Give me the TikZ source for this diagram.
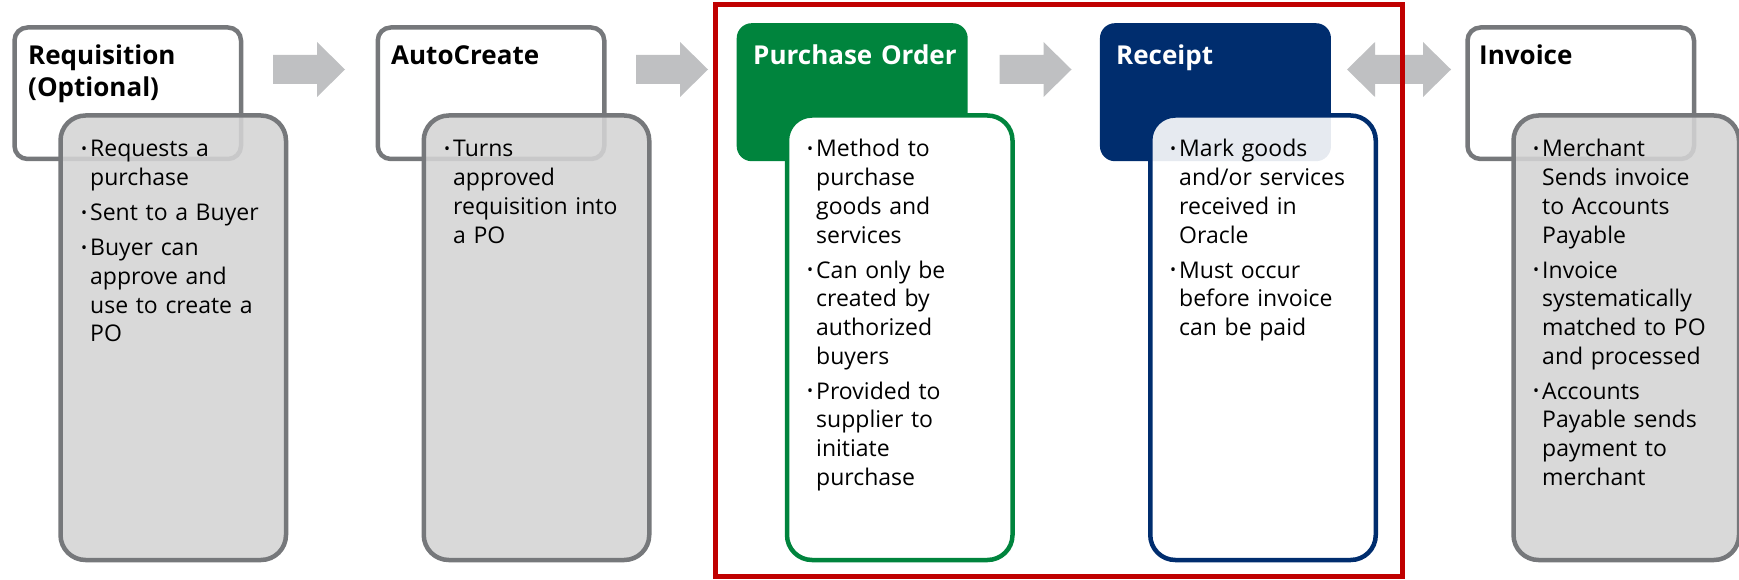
\documentclass[tikz,border=0pt]{standalone}
\usepackage{fontspec}
\setmainfont{Open Sans}

\definecolor{boxgrey}{RGB}{118,120,123}
\definecolor{panelgrey}{RGB}{212,212,212}
\definecolor{arrowgrey}{RGB}{191,192,194}
\definecolor{pogreen}{RGB}{0,132,61}
\definecolor{rcptnavy}{RGB}{0,45,110}
\definecolor{framered}{RGB}{192,0,0}

% one bullet item: small round dot, wrapped lines aligned with the text
\newcommand\bul[1]{{\leftskip=9pt\leavevmode\hspace*{-9pt}%
  \makebox[9pt][l]{\raisebox{2.5pt}{\fontsize{16}{16}\selectfont\textbullet}}#1\par}}
\newcommand\bgap{\vspace{6.3pt}}

\tikzset{
  headbox/.style={draw=boxgrey, line width=4.5pt, fill=white, rounded corners=13pt,
    anchor=north west, minimum width=226.5pt, minimum height=131.5pt, inner sep=0pt},
  colhead/.style={fill=#1, rounded corners=15pt, anchor=north west,
    minimum width=231pt, minimum height=138pt, inner sep=0pt},
  panel/.style={line width=4.5pt, rounded corners=25pt, anchor=north west,
    minimum width=225.5pt, minimum height=444.5pt, inner sep=0pt},
  greypanel/.style={panel, draw=boxgrey, fill=panelgrey, fill opacity=0.88},
  title/.style={anchor=base west, inner sep=0pt, text width=220pt,
    font=\fontsize{26}{32}\selectfont\bfseries},
  body/.style={anchor=base west, inner sep=0pt, text width=240pt,
    font=\fontsize{23}{28.7}\selectfont},
  blockarrow/.style={fill=arrowgrey},
}

\begin{document}
\begin{tikzpicture}[x=1pt, y=-1pt]
\useasboundingbox (0,0) rectangle (1739,580);

% ---- header boxes ----
\node[headbox] (reqhead)  at (12.25,25.25) {};
\node[headbox] (autohead) at (375.5,25.25) {};
\node[colhead=pogreen]  (pohead)  at (736.5,23) {};
\node[colhead=rcptnavy] (rcphead) at (1099.75,23) {};
\node[headbox] (invhead)  at (1465.25,25.25) {};

% ---- detail panels ----
\node[greypanel] (reqpanel)  at (58.25,113.25) {};
\node[greypanel] (autopanel) at (421.5,113.25) {};
\node[panel, draw=pogreen, fill=white] (popanel) at (784.75,113.25) {};
\node[panel, draw=rcptnavy, fill=white, fill opacity=0.9] (rcppanel) at (1148,113.25) {};
\node[greypanel] (invpanel)  at (1511.25,113.25) {};

% ---- titles ----
\node[title] (reqtitle)  at (28,65) {Requisition\\(Optional)};
\node[title] (autotitle) at (391,65) {AutoCreate};
\node[title, text=white] (potitle)  at (753,65) {Purchase Order};
\node[title, text=white] (rcptitle) at (1116,65) {Receipt};
\node[title] (invtitle)  at (1479,65) {Invoice};

% ---- bullet texts ----
\node[body] (reqtext) at (81,157) {%
  \bul{Requests a\newline purchase}\bgap
  \bul{Sent to a Buyer}\bgap
  \bul{Buyer can\newline approve and\newline use to create a\newline PO}};
\node[body] (autotext) at (444,157) {%
  \bul{Turns\newline approved\newline requisition into\newline a PO}};
\node[body] (potext) at (807,157) {%
  \bul{Method to\newline purchase\newline goods and\newline services}\bgap
  \bul{Can only be\newline created by\newline authorized\newline buyers}\bgap
  \bul{Provided to\newline supplier to\newline initiate\newline purchase}};
\node[body] (rcptext) at (1170,157) {%
  \bul{Mark goods\newline and/or services\newline received in\newline Oracle}\bgap
  \bul{Must occur\newline before invoice\newline can be paid}};
\node[body] (invtext) at (1533,157) {%
  \bul{Merchant\newline Sends invoice\newline to Accounts\newline Payable}\bgap
  \bul{Invoice\newline systematically\newline matched to PO\newline and processed}\bgap
  \bul{Accounts\newline Payable sends\newline payment to\newline merchant}};

% ---- block arrows between the stages ----
\coordinate (arr1) at (309,69.5);
\coordinate (arr2) at (672,69.5);
\coordinate (arr3) at (1035.5,69.5);
\coordinate (arr4) at (1399,69.5);
\foreach \c in {arr1,arr2,arr3}{
  \fill[blockarrow, shift={(\c)}] (-36,-14.5) -- (8,-14.5) -- (8,-27.5) -- (36,0)
    -- (8,27.5) -- (8,14.5) -- (-36,14.5) -- cycle;
}
\fill[blockarrow, shift={(arr4)}] (-52,0) -- (-24,-27.5) -- (-24,-14.5) -- (24,-14.5)
  -- (24,-27.5) -- (52,0) -- (24,27.5) -- (24,14.5) -- (-24,14.5) -- (-24,27.5) -- cycle;

% ---- frame around purchase order and receipt ----
\draw[framered, line width=5pt] (715.5,4.5) rectangle (1402.5,576.5);
\end{tikzpicture}
\end{document}
